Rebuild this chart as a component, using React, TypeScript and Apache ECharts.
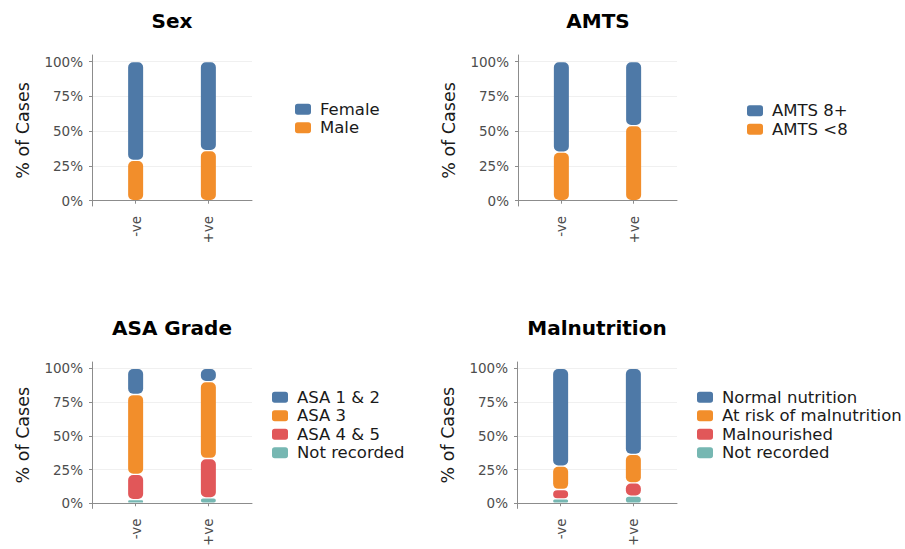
import React, { useEffect, useRef } from "react";
import * as echarts from "echarts";

// ---- data ----
const categories = ["-ve", "+ve"];
const yTicks = [0, 25, 50, 75, 100];

const sexFemale = [71, 64];
const sexMale = [29, 36];

const amts8Plus = [65, 46];
const amtsUnder8 = [35, 54];

const asa12 = [19.3, 9.8];
const asa3 = [59.2, 57];
const asa45 = [18.8, 29.2];
const asaNotRecorded = [2.7, 4];

const malNormal = [72.4, 63.7];
const malAtRisk = [17.4, 21.2];
const malMalnourished = [7, 9.8];
const malNotRecorded = [3.2, 5.3];

const BLUE = "#4e79a7";
const ORANGE = "#f28e2b";
const RED = "#e15759";
const TEAL = "#76b7b2";
const FONT = "DejaVu Sans";

type Layer = { name: string; values: number[]; color: string };
type Panel = {
  title: string;
  titleX: number;
  titleY: number;
  grid: { left: number; top: number; width: number; height: number };
  legend: { left: number; top: number };
  layers: Layer[]; // top-to-bottom (legend order)
};

const panels: Panel[] = [
  {
    title: "Sex",
    titleX: 172,
    titleY: 21,
    grid: { left: 92, top: 55, width: 160, height: 151 },
    legend: { left: 295, top: 100 },
    layers: [
      { name: "Female", values: sexFemale, color: BLUE },
      { name: "Male", values: sexMale, color: ORANGE },
    ],
  },
  {
    title: "AMTS",
    titleX: 598,
    titleY: 21,
    grid: { left: 518, top: 55, width: 159, height: 151 },
    legend: { left: 747, top: 101.5 },
    layers: [
      { name: "AMTS 8+", values: amts8Plus, color: BLUE },
      { name: "AMTS <8", values: amtsUnder8, color: ORANGE },
    ],
  },
  {
    title: "ASA Grade",
    titleX: 172,
    titleY: 328,
    grid: { left: 92, top: 362, width: 160, height: 151 },
    legend: { left: 272, top: 388 },
    layers: [
      { name: "ASA 1 & 2", values: asa12, color: BLUE },
      { name: "ASA 3", values: asa3, color: ORANGE },
      { name: "ASA 4 & 5", values: asa45, color: RED },
      { name: "Not recorded", values: asaNotRecorded, color: TEAL },
    ],
  },
  {
    title: "Malnutrition",
    titleX: 597,
    titleY: 328,
    grid: { left: 517, top: 362, width: 160, height: 151 },
    legend: { left: 697, top: 388 },
    layers: [
      { name: "Normal nutrition", values: malNormal, color: BLUE },
      { name: "At risk of malnutrition", values: malAtRisk, color: ORANGE },
      { name: "Malnourished", values: malMalnourished, color: RED },
      { name: "Not recorded", values: malNotRecorded, color: TEAL },
    ],
  },
];

const axisGray = "#8c8c8c";
const BAR_W = 15;
const GAP_INSET = 0.65;

function renderSegment(params: any, api: any) {
  const x = api.value(0);
  const lo = api.value(1);
  const hi = api.value(2);
  const pLo = api.coord([x, lo]);
  const pHi = api.coord([x, hi]);
  const top = pHi[1] + GAP_INSET;
  const bottom = pLo[1] - GAP_INSET;
  const h = Math.max(bottom - top, 0.6);
  return {
    type: "rect",
    shape: {
      x: pLo[0] - BAR_W / 2,
      y: top,
      width: BAR_W,
      height: h,
      r: Math.min(5, h / 2),
    },
    style: { fill: api.visual("color") },
  };
}

function buildOption() {
  const grid = panels.map((p) => ({ ...p.grid, containLabel: false }));
  const xAxis = panels.map((_, i) => ({
    gridIndex: i,
    type: "value",
    min: 0.4,
    max: 2.6,
    axisLine: { show: true, lineStyle: { color: axisGray, width: 1 } },
    axisTick: {
      show: true,
      length: 3,
      customValues: categories.map((_, j) => j + 1),
      lineStyle: { color: axisGray },
    },
    axisLabel: {
      customValues: categories.map((_, j) => j + 1),
      formatter: (v: number) => categories[Math.round(v) - 1] ?? "",
      rotate: 90,
      margin: 10,
      color: "#4d4d4d",
      fontSize: 13.5,
      fontFamily: FONT,
    },
    splitLine: { show: false },
  }));
  const yAxis = panels.map((_, i) => ({
    gridIndex: i,
    type: "value",
    min: -3.8,
    max: 104.8,
    name: "% of Cases",
    nameLocation: "middle",
    nameRotate: 90,
    nameGap: 60,
    nameTextStyle: { fontSize: 17.5, color: "#1a1a1a", fontFamily: FONT },
    axisLine: { show: true, lineStyle: { color: axisGray, width: 1 } },
    axisTick: {
      show: true,
      length: 3,
      customValues: yTicks,
      lineStyle: { color: axisGray },
    },
    axisLabel: {
      customValues: yTicks,
      formatter: (v: number) => `${v}%`,
      margin: 9,
      color: "#4d4d4d",
      fontSize: 13.5,
      fontFamily: FONT,
    },
    splitLine: { show: true, lineStyle: { color: "#f0f0f0", width: 1 } },
  }));
  const legend = panels.map((p) => ({
    orient: "vertical",
    left: p.legend.left,
    top: p.legend.top,
    padding: 0,
    itemGap: 0,
    itemWidth: 16,
    itemHeight: 11,
    icon: "roundRect",
    selectedMode: false,
    data: p.layers.map((l) => l.name),
    textStyle: {
      fontSize: 16.5,
      lineHeight: 18.5,
      color: "#1a1a1a",
      fontFamily: FONT,
      padding: [0, 0, 0, 4],
    },
  }));
  const series: any[] = [];
  panels.forEach((p, i) => {
    // stack from the bottom layer (last in legend order) upwards
    const base = categories.map(() => 0);
    [...p.layers].reverse().forEach((l) => {
      const data = l.values.map((v, j) => {
        const lo = base[j];
        const hi = lo + v;
        base[j] = hi;
        return [j + 1, lo, hi];
      });
      series.push({
        type: "custom",
        name: l.name,
        xAxisIndex: i,
        yAxisIndex: i,
        renderItem: renderSegment,
        encode: { x: 0, y: [1, 2] },
        data,
        itemStyle: { color: l.color },
      });
    });
  });
  const graphic = panels.map((p) => ({
    type: "text",
    x: p.titleX,
    y: p.titleY,
    style: {
      text: p.title,
      fontFamily: FONT,
      fontWeight: "bold",
      fontSize: 20,
      fill: "#000000",
      textAlign: "center",
      textVerticalAlign: "middle",
    },
  }));
  return {
    animation: false,
    backgroundColor: "#ffffff",
    grid,
    xAxis,
    yAxis,
    legend,
    series,
    graphic,
  };
}

export default function App() {
  const ref = useRef<HTMLDivElement>(null);
  useEffect(() => {
    if (!ref.current) return;
    const chart = echarts.init(ref.current, undefined, { renderer: "svg" });
    chart.setOption(buildOption() as any);
    return () => chart.dispose();
  }, []);
  return (
    <div
      ref={ref}
      style={{ position: "fixed", left: 0, top: 0, width: 905, height: 549, background: "#fff" }}
    />
  );
}
